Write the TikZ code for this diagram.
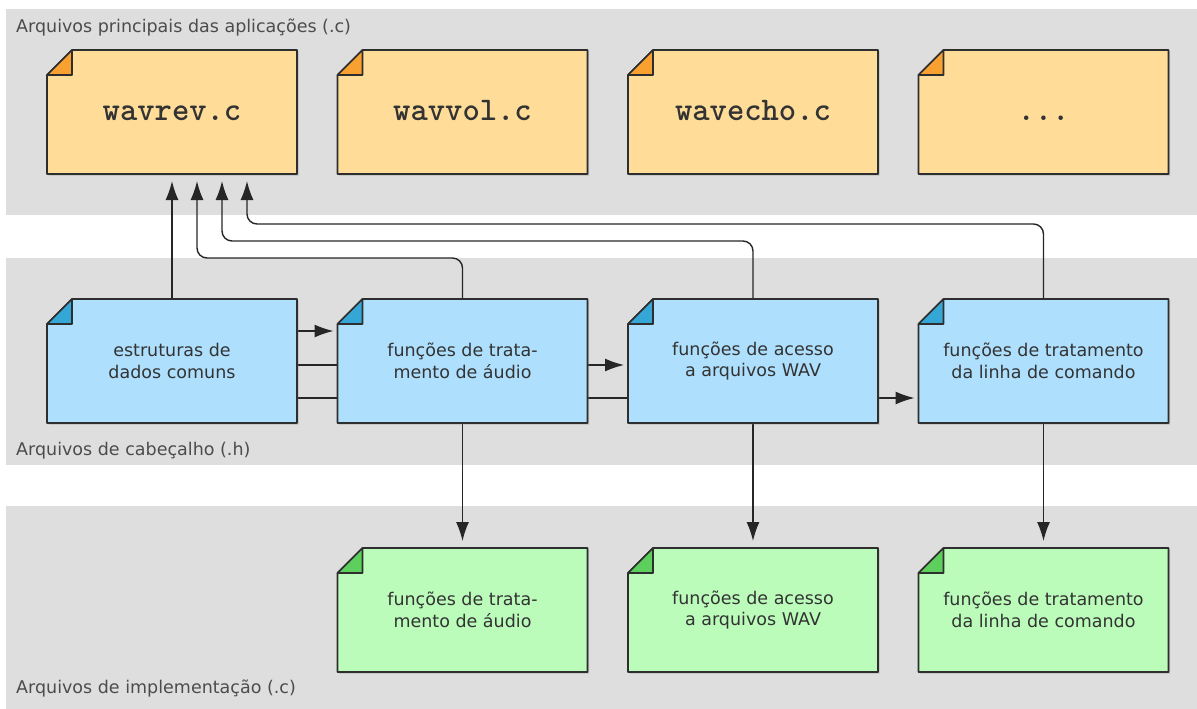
\documentclass[tikz,border=0pt]{standalone}
\usepackage{fontspec}
\setmainfont{DejaVu Sans}
\usetikzlibrary{positioning,arrows.meta,shadows}

\definecolor{bandgray}{HTML}{DEDEDE}
\definecolor{appfill}{HTML}{FFDD99}
\definecolor{appfold}{HTML}{F8A030}
\definecolor{headfill}{HTML}{AEDFFD}
\definecolor{headfold}{HTML}{35A7D6}
\definecolor{implfill}{HTML}{BBFCBB}
\definecolor{implfold}{HTML}{5CCF5C}
\definecolor{inkgray}{HTML}{2E2E2E}

\pgfdeclarelayer{bands}
\pgfdeclarelayer{links}
\pgfdeclarelayer{papers}
\pgfsetlayers{bands,links,papers,main}

% sheet with a folded corner behind node #1
\newcommand{\sheet}[3]{%
	\filldraw[fill=#2,draw=inkgray,line width=1.6pt,line join=round,
		drop shadow={opacity=0.35,shadow xshift=1.5pt,shadow yshift=-1.5pt}]
	([yshift=-25pt]#1.north west) -- ([xshift=25pt]#1.north west) -- (#1.north east)
	-- (#1.south east) -- (#1.south west) -- cycle;
	\filldraw[fill=#3,draw=inkgray,line width=1.6pt,line join=round]
	([yshift=-25pt]#1.north west) -- ([xshift=25pt]#1.north west)
	-- ([shift={(25pt,-25pt)}]#1.north west) -- cycle;}

\begin{document}
\begin{tikzpicture}[x=1pt,y=-1pt,node distance=125pt and 40.5pt,
		link/.style={->,>={Latex[length=19pt,width=13pt]},draw=black!85,line width=1.4pt},
		file node/.style={rectangle,minimum width=250pt,minimum height=124pt,
			inner sep=0pt,outer sep=0pt,align=center,text=black!80},
		app node/.style={file node,text height=16pt,text depth=0pt,
			font=\ttfamily\bfseries\fontsize{33}{36}\selectfont},
		head node/.style={file node,font=\fontsize{17.5}{21.7}\selectfont},
		impl node/.style={file node,font=\fontsize{17.5}{21.7}\selectfont},
		band label/.style={anchor=base west,inner sep=0pt,
			font=\fontsize{17.5}{20}\selectfont,text=black!70}]
		
		\useasboundingbox (0,0) rectangle (1197,709);
		\begin{pgfonlayer}{bands}
			\fill[bandgray] (6,9) rectangle (1197,215);
			\fill[bandgray] (6,258) rectangle (1197,465);
			\fill[bandgray] (6,506) rectangle (1197,709);
		\end{pgfonlayer}
		
		\node[band label] (l1) at (16,33) {Arquivos principais das aplicações (.c)};
		\node[band label] (l2) at (16,455) {Arquivos de cabeçalho (.h)};
		\node[band label] (l3) at (16,693) {Arquivos de implementação (.c)};
		
		\node[app node] (a1) at (172,112) {wavrev.c};
		\node[app node] (a2) [right=of a1] {wavvol.c};
		\node[app node] (a3) [right=of a2] {wavecho.c};
		\node[app node] (a4) [right=of a3] {...};
		
		\node[head node] (h1) [below=of a1] {estruturas de\\dados comuns};
		\node[head node] (h2) [below=of a2] {funções de trata-\\mento de áudio};
		\node[head node] (h3) [below=of a3] {funções de acesso\\a arquivos WAV};
		\node[head node] (h4) [below=of a4] {funções de tratamento\\da linha de comando};
		
		\node[impl node] (c2) [below=of h2] {funções de trata-\\mento de áudio};
		\node[impl node] (c3) [below=of h3] {funções de acesso\\a arquivos WAV};
		\node[impl node] (c4) [below=of h4] {funções de tratamento\\da linha de comando};
		
		\begin{pgfonlayer}{papers}
			\foreach \n/\f/\k in {a1/appfill/appfold,a2/appfill/appfold,a3/appfill/appfold,
				a4/appfill/appfold,h1/headfill/headfold,h2/headfill/headfold,h3/headfill/headfold,
				h4/headfill/headfold,c2/implfill/implfold,c3/implfill/implfold,c4/implfill/implfold}
			\sheet{\n}{\f}{\k};
		\end{pgfonlayer}
		
		\begin{pgfonlayer}{links}
			% header files used by the applications
			\draw[link,shorten >=7pt] (h1.north) -- (a1.south);
			\draw[link,shorten >=7pt,rounded corners=10pt]
			(h2.north) |- ([xshift=25pt,yshift=-84pt]a1.south) -- ([xshift=25pt]a1.south);
			\draw[link,shorten >=7pt,rounded corners=10pt]
			(h3.north) |- ([xshift=50pt,yshift=-67pt]a1.south) -- ([xshift=50pt]a1.south);
			\draw[link,shorten >=7pt,rounded corners=10pt]
			(h4.north) |- ([xshift=75pt,yshift=-50pt]a1.south) -- ([xshift=75pt]a1.south);
			
			% common structures
			\draw[link,shorten >=4pt] ([yshift=30pt]h1.east) -- ([yshift=30pt]h2.west);
			\draw[link,shorten >=4pt] ([yshift=-4pt]h1.east) -- ([yshift=-4pt]h3.west);
			\draw[link,shorten >=4pt] ([yshift=-37pt]h1.east) -- ([yshift=-37pt]h4.west);
			
			% headers to implementations
			\draw[link,shorten >=7pt] (h2.south) -- (c2.north);
			\draw[link,shorten >=7pt] (h3.south) -- (c3.north);
			\draw[link,shorten >=7pt] (h4.south) -- (c4.north);
		\end{pgfonlayer}
\end{tikzpicture}
\end{document}
